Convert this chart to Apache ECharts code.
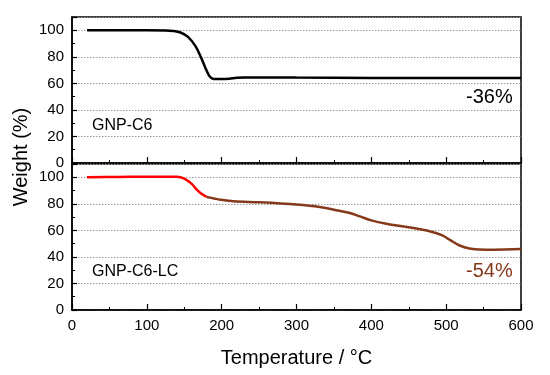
<!DOCTYPE html>
<html>
<head>
<meta charset="utf-8">
<script src="https://cdn.jsdelivr.net/npm/echarts@6/dist/echarts.min.js"></script>
<style>html,body{margin:0;padding:0;background:#fff}#c{width:550px;height:375px}</style>
</head>
<body>
<div id="c"></div>
<script>
// ---- data ----
const tempC6 = [20, 60, 100, 125, 135, 145, 155, 165, 172, 178, 183, 187, 192, 200, 210, 220, 230, 270, 300, 400, 500, 600];
const weightC6 = [100, 100, 100, 99.9, 99.5, 98.3, 95, 88, 80, 72, 66, 63.8, 63.2, 63.2, 63.5, 64.2, 64.5, 64.5, 64.4, 64.1, 64, 64];
const tempLC_a = [20, 60, 100, 140, 150, 160, 166, 173, 180];
const weightLC_a = [100, 100.2, 100.4, 100.3, 99, 95, 91, 87.5, 85.2];
const tempLC_b = [180, 190, 198, 216, 251, 300, 331, 353, 370, 385, 400, 420, 452, 479, 495, 505, 518, 531, 545, 563, 600];
const weightLC_b = [85.2, 84, 83.1, 81.9, 81.1, 79.4, 77.6, 75.2, 73.3, 70.5, 67.5, 65, 62.2, 59.2, 56.2, 52.8, 48.6, 46.3, 45.6, 45.4, 45.9];
const labelTop = 'GNP-C6', labelBottom = 'GNP-C6-LC';
const lossTop = '-36%', lossBottom = '-54%';

const pair = (xs, ys) => xs.map((x, i) => [x, ys[i]]);
const FONT = '"Liberation Sans", Arial, sans-serif';
const BROWN = '#86391A';

const chart = echarts.init(document.getElementById('c'), null, {renderer: 'canvas'});

function yAx(gi) {
  return {
    type: 'value', gridIndex: gi, min: 0, max: 110, interval: 20,
    axisLine: {show: true, lineStyle: {color: '#000', width: 1.5}},
    axisTick: {show: true, inside: true, length: 5, lineStyle: {color: '#000', width: 1.2}},
    minorTick: {show: true, splitNumber: 2, length: 3, lineStyle: {color: '#000', width: 1}},
    axisLabel: {show: true, showMaxLabel: false, color: '#000', fontSize: 15, fontFamily: FONT, margin: 8},
    splitLine: {show: true, lineStyle: {color: '#999', type: [1.5, 1.5], width: 1}}
  };
}
function xAx(gi, labels) {
  return {
    type: 'value', gridIndex: gi, min: 0, max: 600, interval: 100,
    axisLine: {show: true, onZero: false, lineStyle: {color: '#000', width: 1.5}},
    axisTick: {show: true, inside: true, length: 6, lineStyle: {color: '#000', width: 1.2}},
    minorTick: {show: true, splitNumber: 2, length: 3, lineStyle: {color: '#000', width: 1}},
    axisLabel: {show: labels, color: '#000', fontSize: 15, fontFamily: FONT, margin: 8},
    splitLine: {show: false},
    name: labels ? 'Temperature / °C' : '',
    nameLocation: 'middle', nameGap: 38,
    nameTextStyle: {color: '#000', fontSize: 20, fontFamily: FONT}
  };
}

const lineCommon = {type: 'line', smooth: 0.35, showSymbol: false};

chart.setOption({
  animation: false,
  backgroundColor: '#fff',
  grid: [
    {left: 72, right: 29, top: 17, height: 146, show: true, borderColor: '#000', borderWidth: 1.5, backgroundColor: 'transparent'},
    {left: 72, right: 29, top: 164, height: 146, show: true, borderColor: '#000', borderWidth: 1.5, backgroundColor: 'transparent'}
  ],
  xAxis: [xAx(0, false), xAx(1, true)],
  yAxis: [yAx(0), yAx(1)],
  series: [
    Object.assign({}, lineCommon, {xAxisIndex: 0, yAxisIndex: 0, data: pair(tempC6, weightC6),
     lineStyle: {color: '#000', width: 2.5}}),
    Object.assign({}, lineCommon, {xAxisIndex: 1, yAxisIndex: 1, data: pair(tempLC_a, weightLC_a),
     lineStyle: {color: '#ff0000', width: 2.5}}),
    Object.assign({}, lineCommon, {xAxisIndex: 1, yAxisIndex: 1, data: pair(tempLC_b, weightLC_b),
     lineStyle: {color: BROWN, width: 2.5}})
  ],
  graphic: [
    {type: 'text', left: 92, top: 118, style: {text: labelTop, font: '16px ' + FONT, fill: '#000'}},
    {type: 'text', left: 92, top: 264, style: {text: labelBottom, font: '16px ' + FONT, fill: '#000'}},
    {type: 'text', left: 466, top: 87, style: {text: lossTop, font: '20px ' + FONT, fill: '#000'}},
    {type: 'text', left: 466, top: 261, style: {text: lossBottom, font: '20px ' + FONT, fill: BROWN}},
    {type: 'text', x: 21, y: 157, rotation: Math.PI / 2,
     style: {text: 'Weight (%)', font: '20px ' + FONT, fill: '#000', align: 'center', verticalAlign: 'middle'}}
  ]
});
</script>
</body>
</html>
